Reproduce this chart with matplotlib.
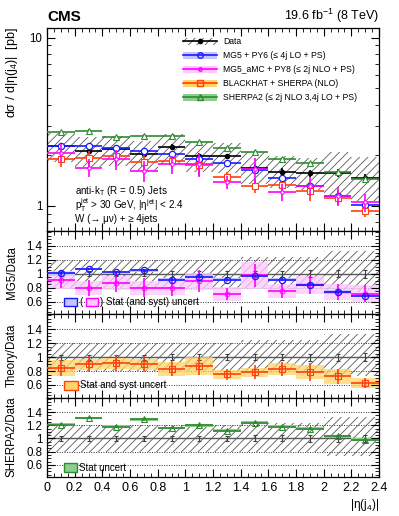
import numpy as np
import matplotlib
matplotlib.use("Agg")
import matplotlib.pyplot as plt
from matplotlib.patches import Patch, Rectangle
from matplotlib.lines import Line2D
from matplotlib.ticker import MultipleLocator, FixedLocator, FuncFormatter, LogLocator, NullFormatter

plt.rcParams['font.family'] = ['Liberation Sans', 'DejaVu Sans']
plt.rcParams['mathtext.fontset'] = 'custom'
plt.rcParams['mathtext.rm'] = 'Liberation Sans'
plt.rcParams['mathtext.it'] = 'Liberation Sans:italic'
plt.rcParams['hatch.linewidth'] = 0.6

# bins in |eta(j4)|
edges = [0.0, 0.2, 0.4, 0.6, 0.8, 1.0, 1.2, 1.4, 1.6, 1.8, 2.0, 2.2, 2.4]
centers = [0.1, 0.3, 0.5, 0.7, 0.9, 1.1, 1.3, 1.5, 1.7, 1.9, 2.1, 2.3]

# data (pb) and its uncertainties (relative)
data = [2.27, 2.13, 2.17, 2.03, 2.23, 1.99, 1.97, 1.69, 1.60, 1.56, 1.57, 1.47]
data_stat = [0.035, 0.035, 0.035, 0.035, 0.04, 0.04, 0.04, 0.045, 0.045, 0.05, 0.05, 0.055]
sys_up = [0.20, 0.20, 0.20, 0.20, 0.20, 0.20, 0.20, 0.24, 0.24, 0.24, 0.33, 0.33]
sys_dn = [0.20, 0.20, 0.20, 0.20, 0.20, 0.20, 0.20, 0.20, 0.20, 0.20, 0.27, 0.27]

# MG5 + PY6
mg5 = [2.28, 2.27, 2.21, 2.13, 2.04, 1.91, 1.80, 1.63, 1.46, 1.32, 1.15, 1.01]
mg5_ratio = [1.005, 1.067, 1.02, 1.05, 0.914, 0.96, 0.914, 0.967, 0.914, 0.843, 0.738, 0.686]
mg5_stat = [0.02, 0.02, 0.02, 0.02, 0.02, 0.02, 0.02, 0.02, 0.02, 0.02, 0.025, 0.025]

# MG5_aMC + PY8
amc = [2.07, 1.69, 1.89, 1.62, 1.77, 1.77, 1.39, 1.65, 1.21, 1.32, 1.15, 1.05]
amc_ratio = [0.914, 0.795, 0.871, 0.80, 0.795, 0.89, 0.705, 0.976, 0.757, 0.843, 0.738, 0.714]
amc_stat = [0.12, 0.12, 0.13, 0.14, 0.12, 0.16, 0.09, 0.17, 0.11, 0.13, 0.12, 0.12]
amc_syst = [0.13, 0.10, 0.10, 0.10, 0.10, 0.12, 0.10, 0.20, 0.10, 0.13, 0.12, 0.12]

# BLACKHAT + SHERPA
bh = [1.91, 1.92, 1.98, 1.83, 1.85, 1.74, 1.48, 1.32, 1.33, 1.23, 1.12, 0.93]
bh_ratio = [0.843, 0.90, 0.914, 0.90, 0.829, 0.876, 0.752, 0.781, 0.829, 0.79, 0.724, 0.633]
bh_stat = [0.11, 0.11, 0.11, 0.11, 0.10, 0.13, 0.08, 0.10, 0.10, 0.13, 0.11, 0.07]
bh_syst = [0.11, 0.08, 0.08, 0.08, 0.10, 0.13, 0.07, 0.07, 0.08, 0.10, 0.11, 0.07]

# SHERPA2
sh = [2.75, 2.79, 2.56, 2.62, 2.59, 2.39, 2.21, 2.10, 1.89, 1.79, 1.60, 1.44]
sh_ratio = [1.21, 1.31, 1.18, 1.29, 1.16, 1.20, 1.12, 1.24, 1.18, 1.15, 1.03, 0.98]
sh_stat = [0.02, 0.02, 0.02, 0.02, 0.02, 0.02, 0.02, 0.02, 0.02, 0.02, 0.02, 0.02]

c_blue, c_blue_band = '#1a1aff', '#c4c4ff'
c_mag, c_mag_band = '#ff00ff', '#ffc8ff'
c_red, c_red_band = '#ff4010', '#ffd466'
c_grn, c_grn_band = '#2e8b2e', '#8fcc8f'
c_hatch = '0.35'
HATCH = '////'

W, H = 399, 516
fig = plt.figure(figsize=(W / 100, H / 100), dpi=100)
left, right = 47 / W, 379 / W
def fy(p):
    return 1 - p / H
ax0 = fig.add_axes([left, fy(230.7), right - left, fy(28) - fy(230.7)])
ax1 = fig.add_axes([left, fy(314), right - left, fy(230.7) - fy(314)], sharex=ax0)
ax2 = fig.add_axes([left, fy(397.5), right - left, fy(314) - fy(397.5)], sharex=ax0)
ax3 = fig.add_axes([left, fy(476.7), right - left, fy(397.5) - fy(476.7)], sharex=ax0)

c = np.array(centers)
d = np.array(data)
su, sd, ds = np.array(sys_up), np.array(sys_dn), np.array(data_stat)

# ---- main panel
ax0.set_yscale('log')
ax0.bar(c, d * (su + sd), bottom=d * (1 - sd), width=0.2, fill=False,
        hatch=HATCH, edgecolor=c_hatch, linewidth=0, zorder=1)
ax0.errorbar(c, d, xerr=0.1, yerr=d * ds, fmt='o', color='k', ms=3,
             elinewidth=1.2, capsize=0, zorder=5)
ax0.errorbar(c, mg5, xerr=0.1, yerr=np.array(mg5) * np.array(mg5_stat), fmt='o',
             color=c_blue, mfc='white', ms=4.5, mew=0.9, elinewidth=1.2, capsize=0, zorder=6)
ax0.errorbar(c, amc, xerr=0.1, yerr=np.array(amc) * np.array(amc_stat), fmt='o',
             color=c_mag, mfc='white', ms=2.5, mew=0.8, elinewidth=1.2, capsize=0, zorder=7)
ax0.errorbar(c, bh, xerr=0.1, yerr=np.array(bh) * np.array(bh_stat), fmt='s',
             color=c_red, mfc='white', ms=4.5, mew=0.8, elinewidth=1.2, capsize=0, zorder=6)
ax0.errorbar(c, sh, xerr=0.1, yerr=np.array(sh) * np.array(sh_stat), fmt='^',
             color=c_grn, mfc='white', ms=4.5, mew=0.8, elinewidth=1.2, capsize=0, zorder=6)
ax0.set_ylim(0.713, 11.4)
ax0.yaxis.set_major_locator(FixedLocator([1, 10]))
ax0.yaxis.set_major_formatter(FuncFormatter(lambda v, p: '%g' % v))
ax0.yaxis.set_minor_locator(LogLocator(subs=np.arange(2, 10)))
ax0.yaxis.set_minor_formatter(NullFormatter())

fig.text(75 / W, fy(191), r'anti-k$_\mathrm{T}$ (R = 0.5) Jets', fontsize=7.1, va='center')
fig.text(75 / W, fy(205.5), r'p$_\mathrm{T}^\mathrm{jet}$ > 30 GeV, |η$^\mathrm{jet}$| < 2.4',
         fontsize=7.1, va='center')
fig.text(75 / W, fy(219), 'W (→ μν) + ≥ 4jets', fontsize=7.1, va='center')

fig.text(left, fy(17), 'CMS', fontsize=11, fontweight='bold', va='center', ha='left')
fig.text(right, fy(16), r'19.6 fb$^{-1}$ (8 TeV)', fontsize=9, va='center', ha='right')

handles = [
    (Patch(fill=False, hatch=HATCH, edgecolor=c_hatch, lw=0),
     Line2D([], [], color='k', marker='o', ms=3, lw=1.2)),
    (Patch(facecolor=c_blue_band, edgecolor='none'),
     Line2D([], [], color=c_blue, marker='o', mfc='none', ms=4, lw=1.2)),
    (Patch(facecolor=c_mag_band, edgecolor='none'),
     Line2D([], [], color=c_mag, marker='o', mfc='none', ms=2.5, lw=1.2)),
    (Patch(facecolor=c_red_band, edgecolor='none'),
     Line2D([], [], color=c_red, marker='s', mfc='none', ms=4, lw=1.2)),
    (Patch(facecolor=c_grn_band, edgecolor='none'),
     Line2D([], [], color=c_grn, marker='^', mfc='none', ms=4, lw=1.2)),
]
labels = ['Data', 'MG5 + PY6 (≤ 4j LO + PS)', 'MG5_aMC + PY8 (≤ 2j NLO + PS)',
          'BLACKHAT + SHERPA (NLO)', 'SHERPA2 (≤ 2j NLO 3,4j LO + PS)']
fig.legend(handles, labels, loc='upper left', bbox_to_anchor=(183 / W, fy(37.5)),
           frameon=False, fontsize=6.2, borderpad=0, handlelength=3.9, handleheight=0.9,
           labelspacing=0.58, handletextpad=0.8, borderaxespad=0)

fig.text(12 / W, fy(27), r'dσ / d|η(j$_4$)|  [pb]', rotation=90, fontsize=9,
         ha='center', va='top')

# ---- ratio panels helper
def ratio_frame(ax, ylabel):
    ax.set_ylim(0.42, 1.62)
    ax.yaxis.set_major_locator(FixedLocator([0.6, 0.8, 1.0, 1.2, 1.4]))
    ax.yaxis.set_major_formatter(FuncFormatter(lambda v, p: '%g' % round(v, 2)))
    ax.yaxis.set_minor_locator(MultipleLocator(0.05))
    for yv in [0.6, 0.8, 1.2, 1.4]:
        ax.axhline(yv, color='0.2', ls=(0, (1, 1.5)), lw=0.7, zorder=0)
    ax.axhline(1.0, color='0.35', lw=1.0, zorder=0)
    ax.bar(c, su + sd, bottom=1 - sd, width=0.2, fill=False, hatch=HATCH,
           edgecolor=c_hatch, linewidth=0, zorder=1)
    ax.errorbar(c, np.ones(len(c)), yerr=ds, fmt='none', ecolor='0.25', elinewidth=0.8,
                capsize=1.5, capthick=0.8, zorder=2)
    fig.text(12 / W, (ax.get_position().y0 + ax.get_position().y1) / 2, ylabel,
             rotation=90, fontsize=8.3, ha='center', va='center')

def key_box(ax, x0, x1, y0, y1, fc, ec):
    ax.add_patch(Rectangle((x0, y0), x1 - x0, y1 - y0, transform=ax.transAxes,
                           facecolor=fc, edgecolor=ec, lw=1.0, zorder=8))

def ax_x(px):
    return (px - 47) / (379 - 47)

# MG5 / Data
ratio_frame(ax1, 'MG5/Data')
ax1.bar(c, 2 * np.array(amc_syst), bottom=np.array(amc_ratio) - np.array(amc_syst), width=0.2,
        color=c_mag_band, alpha=0.75, lw=0, zorder=1.5)
ax1.bar(c, 2 * np.array(mg5_stat), bottom=np.array(mg5_ratio) - np.array(mg5_stat), width=0.2,
        color=c_blue_band, lw=0, zorder=1.6)
ax1.errorbar(c, amc_ratio, xerr=0.1, yerr=amc_stat, fmt='o', color=c_mag, mfc='none',
             ms=3.5, mew=0.6, elinewidth=1.2, capsize=0, zorder=4)
ax1.errorbar(c, mg5_ratio, xerr=0.1, yerr=mg5_stat, fmt='o', color=c_blue, mfc='none',
             ms=4.5, mew=0.9, elinewidth=1.2, capsize=0, zorder=5)
key_box(ax1, ax_x(64), ax_x(77), 0.10, 0.19, c_blue_band, c_blue)
ax1.text(ax_x(79), 0.145, '(', transform=ax1.transAxes, fontsize=7, va='center')
key_box(ax1, ax_x(86), ax_x(98), 0.10, 0.19, c_mag_band, c_mag)
ax1.text(ax_x(100), 0.145, ') Stat (and syst) uncert', transform=ax1.transAxes,
         fontsize=7, va='center')

# Theory / Data
ratio_frame(ax2, 'Theory/Data')
ax2.bar(c, 2 * np.array(bh_syst), bottom=np.array(bh_ratio) - np.array(bh_syst), width=0.2,
        color=c_red_band, alpha=0.75, lw=0, zorder=1.5)
ax2.errorbar(c, bh_ratio, xerr=0.1, yerr=bh_stat, fmt='s', color=c_red, mfc='none',
             ms=4.5, mew=0.8, elinewidth=1.2, capsize=0, zorder=4)
key_box(ax2, ax_x(64), ax_x(78), 0.09, 0.20, c_red_band, c_red)
ax2.text(ax_x(80), 0.145, 'Stat and syst uncert', transform=ax2.transAxes,
         fontsize=7, va='center')

# SHERPA2 / Data
ratio_frame(ax3, 'SHERPA2/Data')
ax3.bar(c, 2 * np.array(sh_stat), bottom=np.array(sh_ratio) - np.array(sh_stat), width=0.2,
        color=c_grn_band, lw=0, zorder=1.5)
ax3.errorbar(c, sh_ratio, xerr=0.1, yerr=sh_stat, fmt='^', color=c_grn, mfc='none',
             ms=4.5, mew=0.8, elinewidth=1.2, capsize=0, zorder=4)
key_box(ax3, ax_x(64), ax_x(77), 0.06, 0.17, c_grn_band, c_grn)
ax3.text(ax_x(79), 0.115, 'Stat uncert', transform=ax3.transAxes,
         fontsize=7, va='center')

for ax in [ax0, ax1, ax2, ax3]:
    ax.set_xlim(0, 2.4)
    ax.xaxis.set_major_locator(MultipleLocator(0.2))
    ax.xaxis.set_minor_locator(MultipleLocator(0.05))
    ax.tick_params(which='both', direction='in', top=True, right=True, labelsize=8.3)
    ax.tick_params(which='major', length=6, width=0.8)
    ax.tick_params(which='minor', length=3, width=0.6)
    for s in ax.spines.values():
        s.set_linewidth(0.9)
for ax in [ax0, ax1, ax2]:
    ax.tick_params(labelbottom=False)
ax3.xaxis.set_major_formatter(FuncFormatter(lambda v, p: '%g' % round(v, 2)))
ax3.tick_params(axis='x', pad=4, labelsize=9)
fig.text(right, fy(505), r'|η(j$_4$)|', fontsize=8.5, ha='right', va='center')

fig.savefig('out.png', dpi=100)
